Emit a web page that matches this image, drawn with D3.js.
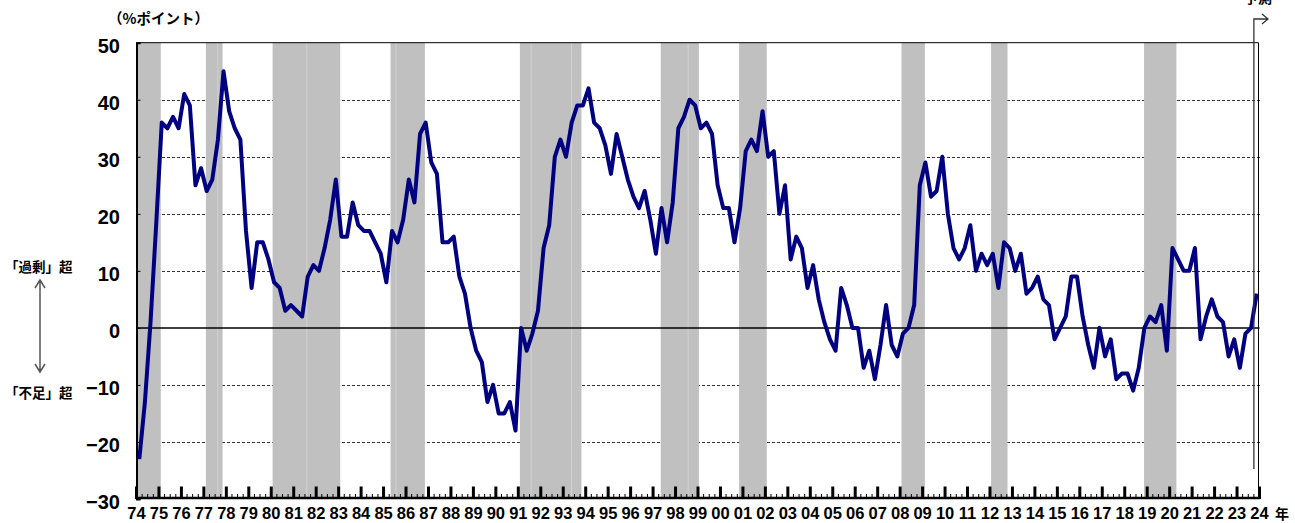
<!DOCTYPE html>
<html>
<head>
<meta charset="utf-8">
<script src="https://cdn.jsdelivr.net/npm/d3@7"></script>
<style>
    body { margin: 0; background: #ffffff; }
    svg { display: block; }
</style>
</head>
<body>
<script>
// quarterly DI, 1974Q1 .. 2023Q4 (last point is the forecast)
var firstYear = 1974;
var diValues = [
    -23, -13, 1, 18,   36, 35, 37, 35,   41, 39, 25, 28,   24, 26, 33, 45,
    38, 35, 33, 17,    7, 15, 15, 12,    8, 7, 3, 4,       3, 2, 9, 11,
    10, 14, 19, 26,    16, 16, 22, 18,   17, 17, 15, 13,   8, 17, 15, 19,
    26, 22, 34, 36,    29, 27, 15, 15,   16, 9, 6, 0,      -4, -6, -13, -10,
    -15, -15, -13, -18, 0, -4, -1, 3,    14, 18, 30, 33,   30, 36, 39, 39,
    42, 36, 35, 32,    27, 34, 30, 26,   23, 21, 24, 19,   13, 21, 15, 22,
    35, 37, 40, 39,    35, 36, 34, 25,   21, 21, 15, 21,   31, 33, 31, 38,
    30, 31, 20, 25,    12, 16, 14, 7,    11, 5, 1, -2,     -4, 7, 4, 0,
    0, -7, -4, -9,     -3, 4, -3, -5,    -1, 0, 4, 25,     29, 23, 24, 30,
    20, 14, 12, 14,    18, 10, 13, 11,   13, 7, 15, 14,    10, 13, 6, 7,
    9, 5, 4, -2,       0, 2, 9, 9,       2, -3, -7, 0,     -5, -2, -9, -8,
    -8, -11, -7, 0,    2, 1, 4, -4,      14, 12, 10, 10,   14, -2, 2, 5,
    2, 1, -5, -2,      -7, -1, 0, 6
];

// recession periods (decimal years)
var recessionStart = [1973.80, 1977.09, 1980.06, 1985.31, 1991.07, 1997.34, 2000.83, 2008.06, 2012.05, 2018.86];
var recessionEnd   = [1975.08, 1977.83, 1983.07, 1986.84, 1993.81, 1999.04, 2002.06, 2009.10, 2012.78, 2020.30];
// faint seams inside some shaded bands
var bandSeams = [1977.62, 1981.58, 1985.55, 1991.57, 1993.37, 1998.56];

var yTicks = [-30, -20, -10, 0, 10, 20, 30, 40, 50];
var lastYear = 2024;
var forecastFrom = 2023.75;

function init() {
    var w = 1295;
    var h = 523;
    var left = 136.5, right = 1259.5, top = 42.7, bottom = 499;

    var numFont = "'Liberation Sans Narrow', 'Arial Narrow', 'Liberation Sans', Arial, sans-serif";
    var jpFont = "'Noto Sans CJK JP', 'Noto Sans CJK SC', sans-serif";

    var x = d3.scaleLinear().domain([firstYear, lastYear]).range([left, right]);
    var y = d3.scaleLinear().domain([-30, 50]).range([bottom, top]);

    var svg = d3.select("body").append("svg")
        .attr("width", w)
        .attr("height", h);

    // dashed grid lines (drawn under the shaded bands)
    svg.append("g")
        .attr("shape-rendering", "crispEdges")
        .selectAll("line")
        .data(yTicks.filter(function (d) { return d !== 0 && d !== 50 && d !== -30; }))
        .enter()
        .append("line")
        .attr("x1", left).attr("x2", right)
        .attr("y1", function (d) { return Math.round(y(d)) + 0.5; })
        .attr("y2", function (d) { return Math.round(y(d)) + 0.5; })
        .attr("stroke", "#333")
        .attr("stroke-width", 1)
        .attr("stroke-dasharray", "3,2");

    // recession bands
    var bands = recessionStart.map(function (s, i) { return [Math.max(s, firstYear), recessionEnd[i]]; });
    svg.append("g")
        .selectAll("rect")
        .data(bands)
        .enter()
        .append("rect")
        .attr("x", function (d) { return x(d[0]); })
        .attr("y", top)
        .attr("width", function (d) { return x(d[1]) - x(d[0]); })
        .attr("height", bottom - top)
        .attr("fill", "#c0c0c0");

    svg.append("g")
        .selectAll("line")
        .data(bandSeams)
        .enter()
        .append("line")
        .attr("x1", function (d) { return x(d); })
        .attr("x2", function (d) { return x(d); })
        .attr("y1", top).attr("y2", bottom)
        .attr("stroke", "#d2d2d2")
        .attr("stroke-width", 1);

    // zero line and frame
    svg.append("line")
        .attr("x1", left).attr("x2", right)
        .attr("y1", y(0)).attr("y2", y(0))
        .attr("stroke", "#000").attr("stroke-width", 1.5);

    svg.append("path")
        .attr("d", "M" + left + "," + top + "H" + (right - 1) + "V" + bottom)
        .attr("fill", "none")
        .attr("stroke", "#000")
        .attr("stroke-width", 1);

    // left axis
    var yAxis = d3.axisRight(y)
        .tickValues(yTicks)
        .tickSize(4)
        .tickFormat("");
    svg.append("g")
        .attr("transform", "translate(" + left + ",0)")
        .call(yAxis)
        .call(function (g) {
            g.select(".domain").attr("stroke-width", 2);
        });

    svg.append("g")
        .selectAll("text")
        .data(yTicks)
        .enter()
        .append("text")
        .attr("x", 120)
        .attr("y", function (d) { return y(d) + 3; })
        .attr("dy", "0.35em")
        .attr("text-anchor", "end")
        .attr("font-family", numFont)
        .attr("font-weight", "bold")
        .attr("font-size", 20)
        .text(function (d) { return d3.format("d")(d); });

    // bottom axis: quarter minor ticks, yearly major ticks
    var quarters = d3.range(0, (lastYear - firstYear) * 4 + 1).map(function (q) { return firstYear + q / 4; });
    var years = d3.range(firstYear, lastYear + 1);

    svg.append("g")
        .selectAll("line")
        .data(quarters.filter(function (q) { return q % 1 !== 0; }))
        .enter()
        .append("line")
        .attr("x1", function (d) { return x(d); })
        .attr("x2", function (d) { return x(d); })
        .attr("y1", bottom).attr("y2", bottom - 5)
        .attr("stroke", "#000").attr("stroke-width", 1);

    svg.append("g")
        .selectAll("line")
        .data(years)
        .enter()
        .append("line")
        .attr("x1", function (d) { return x(d); })
        .attr("x2", function (d) { return x(d); })
        .attr("y1", bottom).attr("y2", bottom - 12.5)
        .attr("stroke", "#000").attr("stroke-width", 3);

    svg.append("line")
        .attr("x1", left - 1).attr("x2", right)
        .attr("y1", bottom - 1).attr("y2", bottom - 1)
        .attr("stroke", "#000").attr("stroke-width", 2.5);

    svg.append("g")
        .selectAll("text")
        .data(years)
        .enter()
        .append("text")
        .attr("x", function (d) { return x(d); })
        .attr("y", 519)
        .attr("text-anchor", "middle")
        .attr("font-family", numFont)
        .attr("font-weight", "bold")
        .attr("font-size", 16.5)
        .text(function (d) { return d3.format("02d")(d % 100); });

    svg.append("text")
        .attr("x", 1275).attr("y", 519)
        .attr("font-family", jpFont)
        .attr("font-weight", "bold")
        .attr("font-size", 14)
        .text("年");

    // DI line
    var line = d3.line()
        .x(function (d, i) { return x(firstYear + (i + 0.5) / 4); })
        .y(function (d) { return y(d); });

    svg.append("path")
        .datum(diValues)
        .attr("d", line)
        .attr("fill", "none")
        .attr("stroke", "#000080")
        .attr("stroke-width", 4)
        .attr("stroke-linejoin", "round");

    // forecast marker
    var fx = x(forecastFrom);
    svg.append("path")
        .attr("d", "M" + fx + ",469V19H1268M1262,14L1268,19L1262,24")
        .attr("fill", "none")
        .attr("stroke", "#333")
        .attr("stroke-width", 1.3);

    svg.append("text")
        .attr("x", 1258).attr("y", 3)
        .attr("text-anchor", "middle")
        .attr("font-family", jpFont)
        .attr("font-weight", "bold")
        .attr("font-size", 14)
        .text("予測");

    // unit label
    svg.append("text")
        .attr("x", 108).attr("y", 19)
        .attr("dy", "0.35em")
        .attr("font-family", jpFont)
        .attr("font-weight", "bold")
        .attr("font-size", 14.5)
        .text("（%ポイント）");

    // excess / shortage note with double arrow
    svg.append("text")
        .attr("x", 5).attr("y", 267)
        .attr("dy", "0.35em")
        .attr("font-family", jpFont)
        .attr("font-weight", "bold")
        .attr("font-size", 13.5)
        .text("「過剰」超");

    svg.append("text")
        .attr("x", 5).attr("y", 393)
        .attr("dy", "0.35em")
        .attr("font-family", jpFont)
        .attr("font-weight", "bold")
        .attr("font-size", 13.5)
        .text("「不足」超");

    svg.append("path")
        .attr("d", "M40,280V372M35,288L40,280L45,288M35,364L40,372L45,364")
        .attr("fill", "none")
        .attr("stroke", "#555")
        .attr("stroke-width", 1.5);
}
window.onload = init;
</script>
</body>
</html>
